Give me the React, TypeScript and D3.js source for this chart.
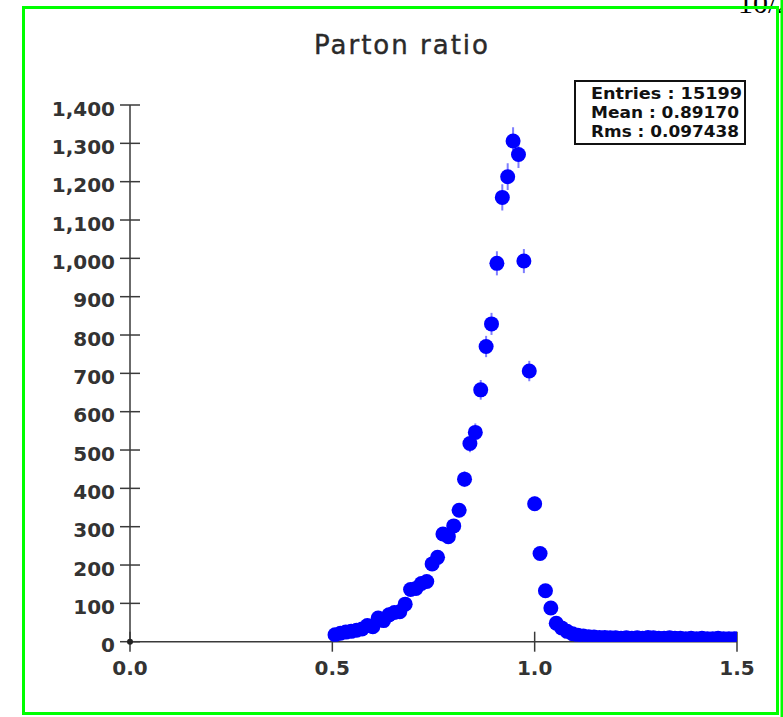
import React from "react";
import * as d3 from "d3";

// ---- data ----
const histLow = 0.5;
const histHigh = 1.5;
const counts: number[] = [
  18, 22, 25, 27, 30, 33, 42, 39, 62, 55,
  70, 76, 78, 98, 136, 139, 152, 157, 203, 220,
  281, 274, 302, 343, 424, 517, 546, 657, 770, 829,
  987, 1159, 1213, 1306, 1271, 993, 706, 360, 230, 133,
  88, 48, 36, 27, 21, 17, 15, 13, 12, 11,
  11, 10, 10, 9, 10, 9, 10, 9, 11, 10,
  9, 9, 10, 9, 9, 8, 9, 8, 9, 8,
  8, 9, 8, 8, 8,
];
const xTicks: number[] = [0, 0.5, 1.0, 1.5];
const xTickLabels: string[] = ["0.0", "0.5", "1.0", "1.5"];
const yTicks: number[] = [0, 100, 200, 300, 400, 500, 600, 700, 800, 900, 1000, 1100, 1200, 1300, 1400];
const titleText = "Parton ratio";
const statsLines: string[] = ["Entries : 15199", "Mean : 0.89170", "Rms : 0.097438"];
const statsWidths: number[] = [151, 148, 148];
const pageText = "10/21";

export default function App() {
  const W = 783;
  const H = 717;
  const x = d3.scaleLinear().domain([0, 1.5]).range([130, 737]);
  const y = d3.scaleLinear().domain([0, 1400]).range([641.7, 105]);
  const binW = (histHigh - histLow) / counts.length;
  const pts = counts.map((c, i) => ({ xc: histLow + (i + 0.5) * binW, c }));
  const fmt = d3.format(",");
  const axisColor = "#3a3a3a";
  const labelColor = "#333";

  return (
    <svg
      width={W}
      height={H}
      style={{ position: "fixed", left: 0, top: 0, background: "#fff" }}
      fontFamily="DejaVu Sans"
    >
      <defs>
        <clipPath id="plotClip">
          <rect x={x(0)} y={60} width={x(1.5) - x(0)} height={y(0) - 60} />
        </clipPath>
      </defs>
      <rect x={0} y={0} width={W} height={H} fill="#fff" />
      {/* page text at top right */}
      <text x={738} y={13} fontFamily="Liberation Serif" fontSize={30} fill="#000">
        {pageText}
      </text>
      {/* green frames */}
      <rect x={23.5} y={7.5} width={754} height={706} fill="none" stroke="#00ff00" strokeWidth={3} />
      <line x1={782} x2={782} y1={0} y2={717} stroke="#00ff00" strokeWidth={3} />

      {/* title */}
      <text x={402} y={54} textAnchor="middle" fontSize={26} fill="#2a2a2a" stroke="#2a2a2a" strokeWidth={0.4} letterSpacing={2}>
        {titleText}
      </text>

      {/* stats box */}
      <rect x={575} y={81} width={170} height={63} fill="#fff" stroke="#111" strokeWidth={2} />
      {statsLines.map((s, i) => (
        <text
          key={i}
          x={591}
          y={98.5 + i * 19.2}
          fontSize={16.5}
          fontWeight="bold"
          fill="#111"
          textLength={statsWidths[i]}
          lengthAdjust="spacingAndGlyphs"
        >
          {s}
        </text>
      ))}

      {/* y axis */}
      <line x1={x(0)} x2={x(0)} y1={y(1400)} y2={y(0)} stroke={axisColor} strokeWidth={1.5} />
      {yTicks.map((t) => (
        <g key={"y" + t}>
          <line x1={x(0) - 10} x2={x(0) + 10} y1={y(t)} y2={y(t)} stroke={axisColor} strokeWidth={1.5} />
          <text x={115} y={y(t) + 10.5} textAnchor="end" fontSize={20} fontWeight="bold" fill={labelColor}>
            {fmt(t)}
          </text>
        </g>
      ))}

      {/* x axis */}
      <line x1={x(0)} x2={x(1.5)} y1={y(0)} y2={y(0)} stroke={axisColor} strokeWidth={1.5} />
      {xTicks.map((t, i) => (
        <g key={"x" + t}>
          <line x1={x(t)} x2={x(t)} y1={y(0) - 10} y2={y(0) + 10} stroke={axisColor} strokeWidth={1.5} />
          <text x={x(t)} y={675} textAnchor="middle" fontSize={20} fontWeight="bold" fill={labelColor}>
            {xTickLabels[i]}
          </text>
        </g>
      ))}
      <circle cx={x(0)} cy={y(0)} r={3} fill="#222" />

      {/* data */}
      <g clipPath="url(#plotClip)">
        {pts.map((p, i) => (
          <line
            key={"e" + i}
            x1={x(p.xc)}
            x2={x(p.xc)}
            y1={y(p.c - Math.sqrt(p.c))}
            y2={y(p.c + Math.sqrt(p.c))}
            stroke="#7f7fff"
            strokeWidth={2}
          />
        ))}
        {pts.map((p, i) => (
          <circle key={"p" + i} cx={x(p.xc)} cy={y(p.c)} r={7.5} fill="#0000ff" />
        ))}
      </g>
    </svg>
  );
}
